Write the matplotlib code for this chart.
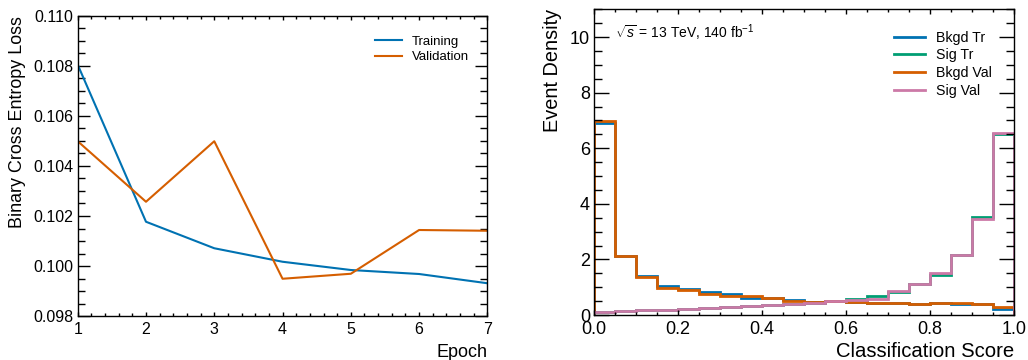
import numpy as np
import matplotlib
matplotlib.use("Agg")
import matplotlib.pyplot as plt
from matplotlib.ticker import MultipleLocator, AutoMinorLocator

plt.rcParams['font.family'] = ['Liberation Sans', 'DejaVu Sans']
plt.rcParams['mathtext.fontset'] = 'custom'
plt.rcParams['mathtext.rm'] = 'Liberation Sans'
plt.rcParams['mathtext.it'] = 'Liberation Sans:italic'

# Loss history per epoch
epochs = [1, 2, 3, 4, 5, 6, 7]
train_loss = [0.10805, 0.10177, 0.10071, 0.10017, 0.09984, 0.09968, 0.09931]
val_loss = [0.10499, 0.10257, 0.10499, 0.09949, 0.09969, 0.10144, 0.10141]

# Classifier score distributions (20 bins on [0, 1])
score_edges = np.linspace(0.0, 1.0, 21)
bkgd_tr = [6.90, 2.13, 1.41, 1.05, 0.92, 0.82, 0.74, 0.60, 0.60, 0.53,
           0.48, 0.49, 0.45, 0.44, 0.43, 0.41, 0.43, 0.40, 0.40, 0.23]
sig_tr = [0.12, 0.15, 0.18, 0.19, 0.22, 0.25, 0.27, 0.31, 0.35, 0.38,
          0.44, 0.49, 0.56, 0.68, 0.84, 1.10, 1.44, 2.16, 3.51, 6.50]
bkgd_val = [6.99, 2.13, 1.37, 0.98, 0.91, 0.77, 0.70, 0.67, 0.60, 0.51,
            0.48, 0.49, 0.48, 0.44, 0.43, 0.39, 0.43, 0.43, 0.38, 0.30]
sig_val = [0.12, 0.15, 0.18, 0.19, 0.22, 0.24, 0.27, 0.31, 0.35, 0.39,
           0.42, 0.49, 0.55, 0.59, 0.87, 1.10, 1.50, 2.16, 3.46, 6.55]

BLUE = '#0072B2'
GREEN = '#009E73'
ORANGE = '#D55E00'
PINK = '#CC79A7'

fig = plt.figure(figsize=(10.28, 3.6), dpi=100)


def style_axes(ax, ymaj, ymin, xmaj, xmin):
    ax.tick_params(which='both', direction='in', top=True, right=True,
                   labelsize=11.5, width=1.0, color='black')
    ax.tick_params(axis='y', which='major', length=ymaj, pad=3)
    ax.tick_params(axis='y', which='minor', length=ymin)
    ax.tick_params(axis='x', which='major', length=xmaj, pad=4)
    ax.tick_params(axis='x', which='minor', length=xmin)
    for s in ax.spines.values():
        s.set_linewidth(1.0)


# Loss curves
ax1 = fig.add_axes([0.0756, 0.1222, 0.3985, 0.8334])
ax1.plot(epochs, train_loss, color=BLUE, lw=1.5, label='Training')
ax1.plot(epochs, val_loss, color=ORANGE, lw=1.5, label='Validation')
ax1.set_xlim(1, 7)
ax1.set_ylim(0.098, 0.110)
ax1.xaxis.set_major_locator(MultipleLocator(1))
ax1.xaxis.set_minor_locator(AutoMinorLocator(5))
ax1.yaxis.set_major_locator(MultipleLocator(0.002))
ax1.yaxis.set_minor_locator(AutoMinorLocator(4))
ax1.yaxis.set_major_formatter(matplotlib.ticker.FormatStrFormatter('%.3f'))
style_axes(ax1, 8.6, 5.0, 3.2, 2.0)
ax1.set_ylabel('Binary Cross Entropy Loss', fontsize=12.9, loc='top', labelpad=5)
ax1.set_xlabel('Epoch', fontsize=13, loc='right', labelpad=5)
ax1.legend(loc='upper right', frameon=False, fontsize=9.5,
           bbox_to_anchor=(0.985, 0.975), handlelength=2.0, labelspacing=0.25)

# Score distributions
ax2 = fig.add_axes([0.5781, 0.125, 0.4083, 0.8492])
ax2.stairs(bkgd_tr, score_edges, color=BLUE, lw=2.0, label='Bkgd Tr')
ax2.stairs(sig_tr, score_edges, color=GREEN, lw=2.0, label='Sig Tr')
ax2.stairs(bkgd_val, score_edges, color=ORANGE, lw=2.0, label='Bkgd Val')
ax2.stairs(sig_val, score_edges, color=PINK, lw=2.0, label='Sig Val')
ax2.set_xlim(0, 1)
ax2.set_ylim(0, 11)
ax2.xaxis.set_major_locator(MultipleLocator(0.2))
ax2.xaxis.set_minor_locator(AutoMinorLocator(4))
ax2.yaxis.set_major_locator(MultipleLocator(2))
ax2.yaxis.set_minor_locator(AutoMinorLocator(4))
style_axes(ax2, 10.8, 5.5, 3.5, 2.2)
ax2.tick_params(labelsize=13)
ax2.set_ylabel('Event Density', fontsize=14.3, loc='top', labelpad=6)
ax2.set_xlabel('Classification Score', fontsize=14.6, loc='right', labelpad=3)
ax2.text(0.05, 0.955, r'$\sqrt{s}$ = 13 TeV, 140 fb$^{-1}$', transform=ax2.transAxes,
         fontsize=10, va='top', ha='left')
ax2.legend(loc='upper right', frameon=False, fontsize=10.2,
           bbox_to_anchor=(0.978, 0.972), handlelength=2.15, labelspacing=0.27)

fig.savefig('out.png', dpi=100)
